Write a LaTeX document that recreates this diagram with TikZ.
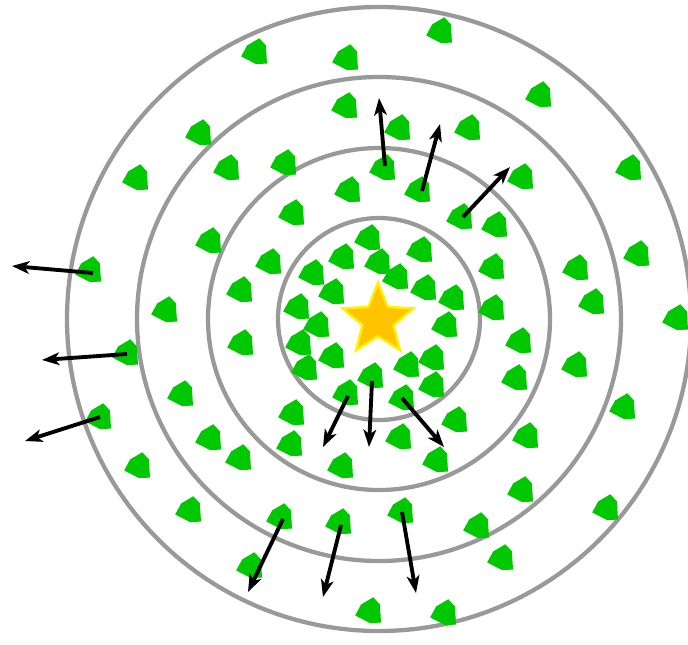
\documentclass[tikz,border=0pt]{standalone}
\usetikzlibrary{shapes.geometric,arrows.meta}
\definecolor{ringgray}{RGB}{153,153,153}
\definecolor{cellgreen}{RGB}{0,200,0}
\definecolor{stargold}{RGB}{255,196,0}
\definecolor{staredge}{RGB}{255,240,0}
\begin{document}
\begin{tikzpicture}[x=0.75pt,y=-0.75pt,
  ring/.style={draw=ringgray,line width=3.2pt},
  cell/.pic={\fill[cellgreen,scale=1.1] (3,-12.5)--(9,-6)--(10,10.5)--(0,11)--(-13.5,4)--(-8,-6)--cycle;},
  motion/.style={-{Stealth[length=13pt,width=9.5pt,inset=3.5pt]},line width=2.9pt,black}]
\useasboundingbox (0,0) rectangle (688,644);
\coordinate (c) at (379,319);
\draw[ring] (c) circle[radius=75.75pt];
\draw[ring] (c) circle[radius=128.25pt];
\draw[ring] (c) circle[radius=181.5pt];
\draw[ring] (c) circle[radius=234pt];
% green cells
\foreach \x/\y in {
  441/31, 256/52, 347/58, 540/95, 346/106, 399/128, 469/128, 200/133,
  228/168, 285/163, 384/168, 630/168, 137/178, 522/177,
  349/190, 419/190, 293/213, 461/217, 496/225,
  369/238, 210/241, 343/257, 421/250, 638/254,
  270/262, 379/262, 493/267, 577/268,
  90/270, 313/273, 397/277, 333/292, 425/288, 241/290, 453/298, 593/302,
  298/307, 493/308, 166/310, 677/318, 318/325, 446/325,
  242/343, 300/343, 520/341, 333/356, 433/358, 408/365, 127/353,
  306/368, 372/376, 516/378, 576/365,
  433/385, 347/393, 403/398, 182/394,
  624/407, 100/417, 293/413, 456/420,
  210/438, 400/437, 527/436, 291/444,
  240/458, 342/466, 437/460, 139/466,
  522/490, 190/510, 281/517, 340/522, 402/511, 607/508,
  478/526, 502/558, 251/566, 370/611, 445/613}
  \pic at (\x,\y) {cell};
% movement arrows
\coordinate (a1s) at (385,166); \coordinate (a1e) at (379,98);
\coordinate (a2s) at (422,191); \coordinate (a2e) at (440,124);
\coordinate (a3s) at (463,217); \coordinate (a3e) at (510,167);
\coordinate (a4s) at (93,273);  \coordinate (a4e) at (12,266);
\coordinate (a5s) at (127,354); \coordinate (a5e) at (42,360);
\coordinate (a6s) at (100,417); \coordinate (a6e) at (25,441);
\coordinate (a7s) at (283,519); \coordinate (a7e) at (248,592);
\coordinate (a8s) at (341,525); \coordinate (a8e) at (323,597);
\coordinate (a9s) at (402,512); \coordinate (a9e) at (416,593);
\coordinate (a10s) at (348,396); \coordinate (a10e) at (323,447);
\coordinate (a11s) at (372,381); \coordinate (a11e) at (369,447);
\coordinate (a12s) at (402,398); \coordinate (a12e) at (444,447);
\foreach \i in {1,...,12}
  \draw[motion] (a\i s) -- (a\i e);
% star
\node[star,star points=5,star point ratio=2.3,minimum size=56pt,inner sep=0pt,
  fill=stargold,draw=staredge,line width=1.8pt] (sun) at (378,320) {};
\end{tikzpicture}
\end{document}
